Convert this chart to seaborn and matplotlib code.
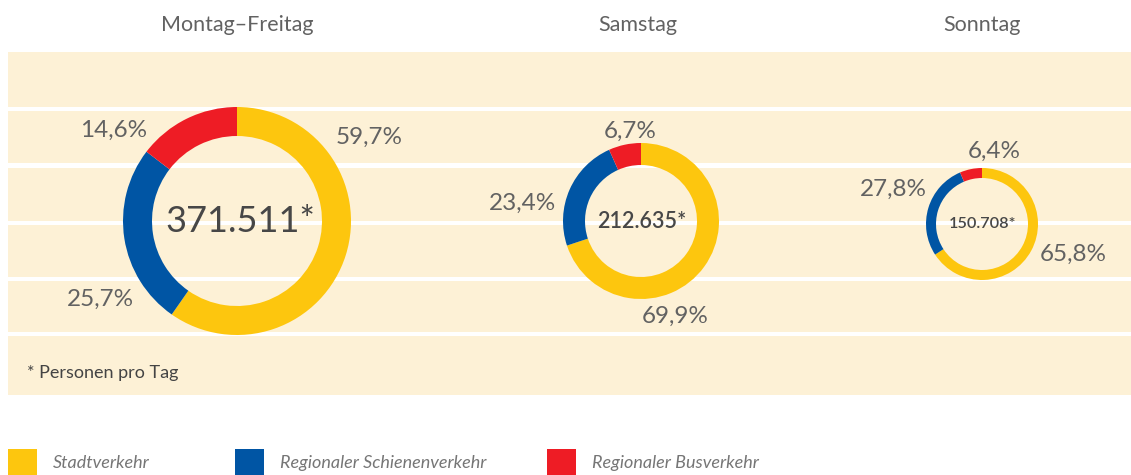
import matplotlib
matplotlib.use("Agg")
import matplotlib.pyplot as plt
import seaborn as sns

sns.set_theme(style="white")
plt.rcParams['font.family'] = ['Lato', 'DejaVu Sans']

# ---- data ----
categories = ["Stadtverkehr", "Regionaler Schienenverkehr", "Regionaler Busverkehr"]
days = ["Montag–Freitag", "Samstag", "Sonntag"]
shares = {
    "Montag–Freitag": [59.7, 25.7, 14.6],
    "Samstag": [69.9, 23.4, 6.7],
    "Sonntag": [65.8, 27.8, 6.4],
}
totals = ["371.511*", "212.635*", "150.708*"]
share_labels = {
    "Montag–Freitag": ["59,7%", "25,7%", "14,6%"],
    "Samstag": ["69,9%", "23,4%", "6,7%"],
    "Sonntag": ["65,8%", "27,8%", "6,4%"],
}
footnote = "* Personen pro Tag"

# ---- style / layout ----
colors = ["#FDC60E", "#0055A4", "#EE1C25"]
band_color = "#FDF1D6"
text_gray = "#626262"
W, H = 1131, 475

centers = [(237, 221), (641, 221), (982, 224)]
radii = [114, 78, 56]
ring_w = [29, 22, 10]
title_x = [237, 638, 982]
center_fs = [26, 15.5, 11.7]
center_fw = ["normal", "semibold", "semibold"]
# label positions (px) in order Stadt, Schiene, Bus
label_pos = [
    [(369, 137), (100, 299), (114, 130)],
    [(675, 316), (522, 203), (630, 131)],
    [(1073, 254), (893, 189), (994, 151)],
]
bands = [(52, 107), (111, 163), (168, 221), (225, 277), (281, 332), (336, 395)]

fig = plt.figure(figsize=(W / 100, H / 100), dpi=100)
ax = fig.add_axes([0, 0, 1, 1])

def Y(y):
    return H - y

for (y0, y1) in bands:
    ax.fill_between([8, W], Y(y1), Y(y0), color=band_color, lw=0, zorder=0)

for i, day in enumerate(days):
    cx, cy = centers[i]
    ax.pie(shares[day], colors=colors, startangle=90, counterclock=False,
           center=(cx, Y(cy)), radius=radii[i],
           wedgeprops=dict(width=ring_w[i], linewidth=0), frame=False)
    ax.text(cx + (3 if i == 0 else 1), Y(cy), totals[i], ha="center", va="center",
            fontsize=center_fs[i], color="#474747", fontweight=center_fw[i])
    ax.text(title_x[i], Y(25), day, ha="center", va="center",
            fontsize=15.5, color=text_gray, fontweight="normal")
    for j, lab in enumerate(share_labels[day]):
        lx, ly = label_pos[i][j]
        ax.text(lx, Y(ly), lab, ha="center", va="center", fontsize=17.5,
                color=text_gray, fontweight="normal")

ax.text(27, Y(373), footnote, ha="left", va="center", fontsize=13,
        color="#444444", fontweight="normal")

# legend
leg_sq_x = [8, 235, 547]
for k, cat in enumerate(categories):
    x0 = leg_sq_x[k]
    ax.fill_between([x0, x0 + 29], Y(475), Y(449), color=colors[k], lw=0)
    ax.text(x0 + 45, Y(463), cat, ha="left", va="center", fontsize=13,
            color="#767676", style="italic", fontweight="normal")

ax.set_xlim(0, W)
ax.set_ylim(0, H)
ax.set_aspect("equal")
ax.axis("off")
fig.savefig("out.png", dpi=100, facecolor="white")
